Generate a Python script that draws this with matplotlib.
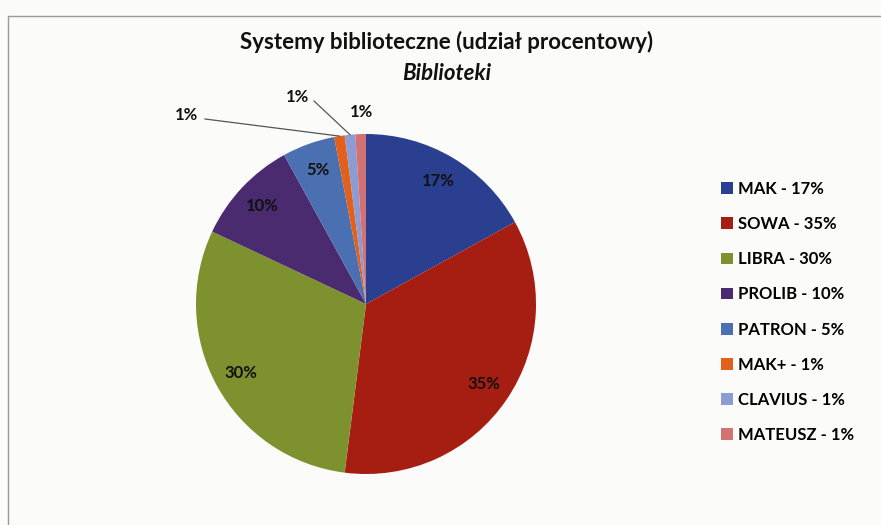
import matplotlib
matplotlib.use("Agg")
import matplotlib.pyplot as plt
import numpy as np

plt.rcParams['font.family'] = ['Lato', 'DejaVu Sans']

systems = ['MAK', 'SOWA', 'LIBRA', 'PROLIB', 'PATRON', 'MAK+', 'CLAVIUS', 'MATEUSZ']
shares = [17, 35, 30, 10, 5, 1, 1, 1]
colors = ['#2b3f90', '#a61e12', '#7d922f', '#4b2b70', '#4a70b2', '#e0601c', '#8d9bd2', '#d27272']

fig = plt.figure(figsize=(8.81, 5.25), dpi=100, facecolor='#fbfbfa')
ax = fig.add_axes([0, 0, 1, 1])

cx, cy, r = 366, 221, 170
wedges, texts, autotexts = ax.pie(
    shares, colors=colors, startangle=90, counterclock=False,
    center=(cx, cy), radius=r, autopct='%d%%', pctdistance=0.84,
    wedgeprops=dict(linewidth=0),
    textprops=dict(fontsize=12, fontweight='bold', color='#111111'))

# pie() resets the limits, so set them afterwards
ax.set_xlim(0, 881)
ax.set_ylim(0, 525)
ax.set_aspect('equal')
ax.axis('off')

# chart frame from the scan
ax.add_patch(plt.Rectangle((8, -5), 900, 514, fill=False, ec='#9a9a9a', lw=1))

# small slices get labels outside
for t in autotexts[5:]:
    t.set_visible(False)

def edge_point(w, frac=1.0):
    ang = np.deg2rad((w.theta1 + w.theta2) / 2)
    return cx + frac * r * np.cos(ang), cy + frac * r * np.sin(ang)

small = [(5, (186, 410), (205, 406)), (6, (297, 428), (314, 424)), (7, (361, 413), None)]
for i, txt_xy, line_start in small:
    ax.text(txt_xy[0], txt_xy[1], f'{shares[i]}%', ha='center', va='center',
            fontsize=12, fontweight='bold', color='#111111')
    if line_start is not None:
        px, py = edge_point(wedges[i], 1.0)
        ax.plot([line_start[0], px], [line_start[1], py], color='#555555', lw=0.9)

ax.text(447, 483, 'Systemy biblioteczne (udział procentowy)', ha='center', va='center',
        fontsize=16, fontweight='bold', color='#111111')
ax.text(447, 452, 'Biblioteki', ha='center', va='center',
        fontsize=16, fontweight='bold', style='italic', color='#111111')

labels = [f'{s} - {v}%' for s, v in zip(systems, shares)]
ax.legend(wedges, labels, loc='upper left', bbox_to_anchor=(706 / 881, 1 - 166 / 525),
          frameon=False, prop=dict(weight='bold', size=12), labelspacing=1.15,
          handlelength=0.7, handleheight=0.7, handletextpad=0.3)

fig.savefig('out.png', dpi=100, facecolor=fig.get_facecolor())
